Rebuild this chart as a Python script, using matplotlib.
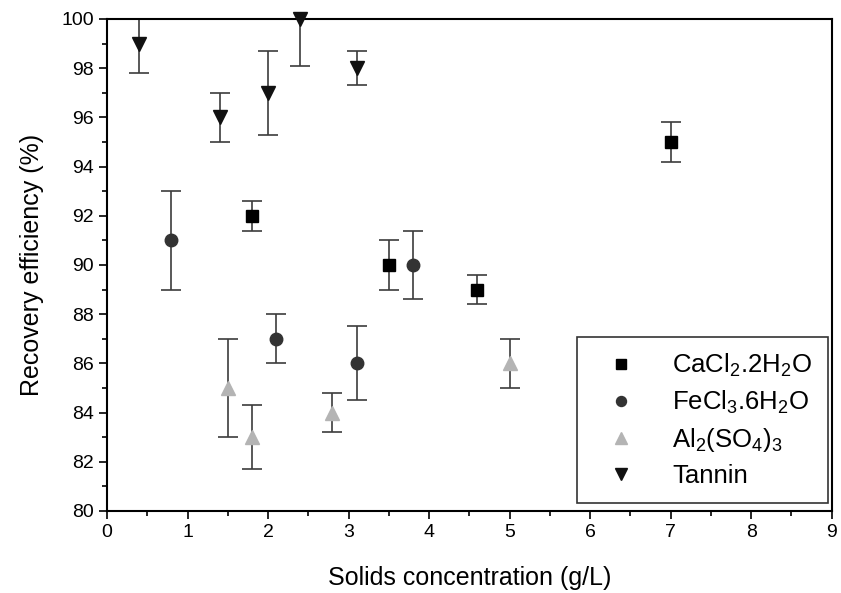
import matplotlib
matplotlib.use('Agg')
import matplotlib.pyplot as plt
from matplotlib.ticker import MultipleLocator

plt.rcParams['font.family'] = ['Liberation Sans', 'DejaVu Sans']
plt.rcParams['mathtext.default'] = 'regular'

# data
ca_x = [1.8, 3.5, 4.6, 7.0]
ca_y = [92, 90, 89, 95]
ca_err = [0.6, 1.0, 0.6, 0.8]

fe_x = [0.8, 2.1, 3.1, 3.8]
fe_y = [91, 87, 86, 90]
fe_err = [2.0, 1.0, 1.5, 1.4]

al_x = [1.5, 1.8, 2.8, 5.0]
al_y = [85, 83, 84, 86]
al_err = [2.0, 1.3, 0.8, 1.0]

tan_x = [0.4, 1.4, 2.0, 2.4, 3.1]
tan_y = [99, 96, 97, 100, 98]
tan_err = [1.2, 1.0, 1.7, 1.9, 0.7]

labels = [r'CaCl$_2$.2H$_2$O', r'FeCl$_3$.6H$_2$O', r'Al$_2$(SO$_4$)$_3$', 'Tannin']

fig = plt.figure(figsize=(8.41, 5.93), dpi=100)
ax = fig.add_axes([0.1272, 0.1383, 0.8618, 0.8297])

series = [
    (ca_x, ca_y, ca_err, 's', '#000000', 9),
    (fe_x, fe_y, fe_err, 'o', '#333333', 9),
    (al_x, al_y, al_err, '^', '#b4b4b4', 10),
    (tan_x, tan_y, tan_err, 'v', '#111111', 10),
]
for (x, y, e, m, c, ms), lab in zip(series, labels):
    ax.errorbar(x, y, yerr=e, fmt='none', ecolor='#3c3c3c', elinewidth=1.2,
                capsize=7.5, capthick=1.2, zorder=2, clip_on=True)
    ax.plot(x, y, linestyle='none', marker=m, color=c, markersize=ms,
            label=lab, zorder=3, clip_on=False)

ax.set_xlim(0, 9)
ax.set_ylim(80, 100)
ax.xaxis.set_major_locator(MultipleLocator(1))
ax.xaxis.set_minor_locator(MultipleLocator(0.5))
ax.yaxis.set_major_locator(MultipleLocator(2))
ax.yaxis.set_minor_locator(MultipleLocator(1))
ax.tick_params(which='both', direction='out', top=False, right=False,
               width=1.2, labelsize=14)
ax.tick_params(which='major', length=6)
ax.tick_params(which='minor', length=3.5)
for s in ax.spines.values():
    s.set_linewidth(1.5)

ax.set_xlabel('Solids concentration (g/L)', fontsize=18, labelpad=18)
ax.set_ylabel('Recovery efficiency (%)', fontsize=18, labelpad=12)

leg = ax.legend(loc='lower right', fontsize=18.5, frameon=True, fancybox=False,
                edgecolor='black', handletextpad=0.9, labelspacing=0.38,
                borderpad=0.6, markerscale=0.8, handlelength=2.2,
                borderaxespad=0, bbox_to_anchor=(0.9945, 0.016))
leg.get_frame().set_linewidth(1.2)

fig.savefig('out.png', dpi=100)
